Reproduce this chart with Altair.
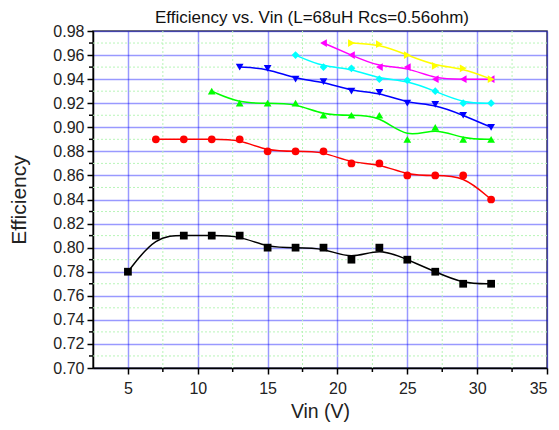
import altair as alt
import pandas as pd

series_names = ["1 LED", "2 LEDs", "3 LEDs", "4 LEDs", "5 LEDs", "6 LEDs", "7 LEDs"]
series_colors = ["#000000", "#ff0000", "#00ff00", "#0000ff", "#00ffff", "#ff00ff", "#ffff00"]
series_shapes = ["square", "circle", "triangle-up", "triangle-down", "diamond", "triangle-left", "triangle-right"]
series_sizes = [60, 60, 75, 75, 65, 75, 75]

vin_black = [5, 7, 9, 11, 13, 15, 17, 19, 21, 23, 25, 27, 29, 31]
eff_black = [0.78, 0.81, 0.81, 0.81, 0.81, 0.80, 0.80, 0.80, 0.79, 0.80, 0.79, 0.78, 0.77, 0.77]
vin_red = [7, 9, 11, 13, 15, 17, 19, 21, 23, 25, 27, 29, 31]
eff_red = [0.89, 0.89, 0.89, 0.89, 0.88, 0.88, 0.88, 0.87, 0.87, 0.86, 0.86, 0.86, 0.84]
vin_green = [11, 13, 15, 17, 19, 21, 23, 25, 27, 29, 31]
eff_green = [0.93, 0.92, 0.92, 0.92, 0.91, 0.91, 0.91, 0.89, 0.90, 0.89, 0.89]
vin_blue = [13, 15, 17, 19, 21, 23, 25, 27, 29, 31]
eff_blue = [0.95, 0.949, 0.94, 0.938, 0.93, 0.929, 0.92, 0.919, 0.91, 0.90]
vin_cyan = [17, 19, 21, 23, 25, 27, 29, 31]
eff_cyan = [0.96, 0.95, 0.949, 0.94, 0.939, 0.93, 0.92, 0.92]
vin_magenta = [19, 21, 23, 25, 27, 29, 31]
eff_magenta = [0.97, 0.96, 0.95, 0.95, 0.94, 0.94, 0.94]
vin_yellow = [21, 23, 25, 27, 29, 31]
eff_yellow = [0.97, 0.969, 0.96, 0.951, 0.949, 0.94]

x_major = [5, 10, 15, 20, 25, 30, 35]
x_minor = [7.5, 12.5, 17.5, 22.5, 27.5, 32.5]
y_major = [0.70, 0.72, 0.74, 0.76, 0.78, 0.80, 0.82, 0.84, 0.86, 0.88, 0.90, 0.92, 0.94, 0.96, 0.98]
y_minor = [0.71, 0.73, 0.75, 0.77, 0.79, 0.81, 0.83, 0.85, 0.87, 0.89, 0.91, 0.93, 0.95, 0.97]

all_vin = [vin_black, vin_red, vin_green, vin_blue, vin_cyan, vin_magenta, vin_yellow]
all_eff = [eff_black, eff_red, eff_green, eff_blue, eff_cyan, eff_magenta, eff_yellow]

rows = []
for name, xs, ys in zip(series_names, all_vin, all_eff):
    for i, (xv, yv) in enumerate(zip(xs, ys)):
        rows.append({"series": name, "vin": xv, "eff": yv, "order": i})
df = pd.DataFrame(rows)
dfx = pd.DataFrame({"vin": x_minor})
dfy = pd.DataFrame({"eff": y_minor})

W, H = 454, 337
FONT = "Liberation Sans"

xscale = alt.Scale(domain=[2.5, 35], nice=False, zero=False)
yscale = alt.Scale(domain=[0.70, 0.98], nice=False, zero=False)

legend_opts = dict(title=None, orient="none", legendX=455, legendY=2,
                   strokeColor="#888888", padding=2, symbolSize=25, labelFontSize=11,
                   rowPadding=5, symbolStrokeWidth=1)
color = alt.Color("series:N", scale=alt.Scale(domain=series_names, range=series_colors),
                  legend=alt.Legend(**legend_opts))
shape = alt.Shape("series:N", scale=alt.Scale(domain=series_names, range=series_shapes),
                  legend=alt.Legend(**legend_opts))

xaxis = alt.Axis(values=x_major, title="Vin (V)", grid=True, gridColor="#0000ff",
                 gridOpacity=0.4, gridWidth=1.5, labelFontSize=16, titleFontSize=19.5,
                 labelPadding=6, titlePadding=6, format="d")
yaxis = alt.Axis(values=y_major, title="Efficiency", grid=True, gridColor="#0000ff",
                 gridOpacity=0.4, gridWidth=1.5, labelFontSize=16, titleFontSize=21,
                 labelPadding=3, titlePadding=23, format=".2f")

X = alt.X("vin:Q", scale=xscale, axis=xaxis)
Y = alt.Y("eff:Q", scale=yscale, axis=yaxis)

minor_grid_x = alt.Chart(dfx).mark_rule(color="#b8f5b8", strokeDash=[2, 2], strokeWidth=1).encode(x=X)
minor_grid_y = alt.Chart(dfy).mark_rule(color="#b8f5b8", strokeDash=[2, 2], strokeWidth=1).encode(y=Y)
minor_tick_x = alt.Chart(dfx).mark_rule(color="#000000", strokeWidth=1.5).encode(
    x=X, y=alt.value(H), y2=alt.value(H + 4))
minor_tick_y = alt.Chart(dfy).mark_rule(color="#000000", strokeWidth=1.5).encode(
    y=Y, x=alt.value(0), x2=alt.value(-4))

lines = alt.Chart(df).mark_line(interpolate="basis", strokeWidth=1.5).encode(
    x=X, y=Y,
    color=alt.Color("series:N", scale=alt.Scale(domain=series_names, range=series_colors), legend=None),
    detail="series:N",
    order="order:Q",
)
points = alt.Chart(df).mark_point(filled=True, opacity=1).encode(
    x=X, y=Y,
    color=color,
    shape=shape,
    size=alt.Size("series:N", scale=alt.Scale(domain=series_names, range=series_sizes), legend=None),
)

chart = alt.layer(minor_grid_x, minor_grid_y, lines, points, minor_tick_x, minor_tick_y).properties(
    width=W, height=H,
    title=alt.TitleParams("Efficiency vs. Vin (L=68uH Rcs=0.56ohm)", fontSize=17, fontWeight="normal",
                          font=FONT, anchor="middle", offset=-4, dx=-8, color="#111111"),
    autosize=alt.AutoSizeParams(type="none"),
    padding={"left": 85, "top": 23, "right": 4, "bottom": 54},
).configure_view(stroke="#444444", strokeWidth=1.5).configure_axis(
    labelFont=FONT, titleFont=FONT, labelColor="#222222", titleColor="#222222",
    domainColor="#000000", domainWidth=1.5, tickColor="#000000", tickWidth=1.5, tickSize=6,
    titleFontWeight="normal",
).configure_legend(labelFont=FONT)

chart.save("out.html", embed_options={"renderer": "svg", "actions": False})
